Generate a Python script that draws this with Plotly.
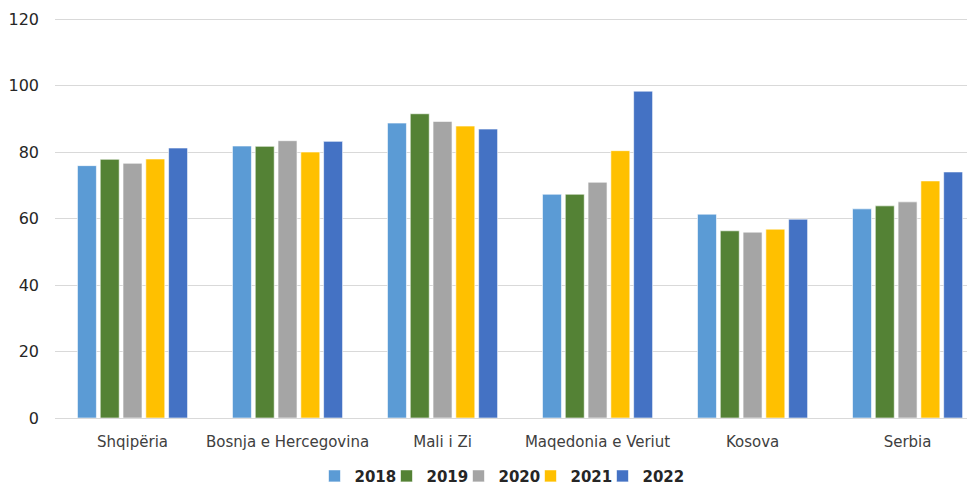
import plotly.graph_objects as go

categories = ["Shqipëria", "Bosnja e Hercegovina", "Mali i Zi", "Maqedonia e Veriut", "Kosova", "Serbia"]
years = ["2018", "2019", "2020", "2021", "2022"]
v2018 = [75.9, 81.8, 88.7, 67.3, 61.3, 62.9]
v2019 = [77.8, 81.7, 91.5, 67.3, 56.3, 63.8]
v2020 = [76.6, 83.4, 89.2, 70.9, 55.9, 65.0]
v2021 = [77.9, 80.0, 87.8, 80.4, 56.8, 71.3]
v2022 = [81.2, 83.2, 86.9, 98.3, 59.8, 74.0]
series = [v2018, v2019, v2020, v2021, v2022]
colors = ["#5B9BD5", "#548235", "#A5A5A5", "#FFC000", "#4472C4"]

font = "DejaVu Sans, sans-serif"
legend_names = ["legend", "legend2", "legend3", "legend4", "legend5"]
legend_centers_px = [358, 430, 502, 574, 646]  # viewport px of each legend box centre

fig = go.Figure()
for y, vals, c, lg in zip(years, series, colors, legend_names):
    fig.add_trace(go.Bar(name=y, x=categories, y=vals, marker_color=c, legend=lg,
                         showlegend=True,
                         marker_line=dict(color="rgba(255,255,255,0.6)", width=1)))

plot_left, plot_w = 55, 920
legend_style = dict(orientation="h", yanchor="middle", y=-0.145, xanchor="center",
                    font=dict(family=font, size=15, color="#262626", weight=700),
                    itemwidth=30, bgcolor="rgba(0,0,0,0)")
layout_legends = {}
for lg, cx in zip(legend_names, legend_centers_px):
    layout_legends[lg] = dict(legend_style, x=(cx - plot_left) / plot_w)

fig.update_layout(
    width=967, height=475,
    margin=dict(l=47, r=0, t=9, b=65, autoexpand=False),
    paper_bgcolor="white", plot_bgcolor="white",
    showlegend=True,
    barmode="group", bargap=0.265, bargroupgap=0.167,
    font=dict(family=font, size=14, color="#262626"),
    xaxis=dict(showline=True, linecolor="#D9D9D9", linewidth=1, ticks="",
               range=[-0.5, 5.435], ticklabelstandoff=10,
               tickfont=dict(size=15, color="#404040")),
    yaxis=dict(range=[0, 120.6], tickvals=[0, 20, 40, 60, 80, 100, 120],
               gridcolor="#D9D9D9", gridwidth=1,
               zeroline=False, ticks="", ticklabelstandoff=15,
               tickfont=dict(size=16, color="#262626")),
    **layout_legends,
)
fig.write_html("out.html")
